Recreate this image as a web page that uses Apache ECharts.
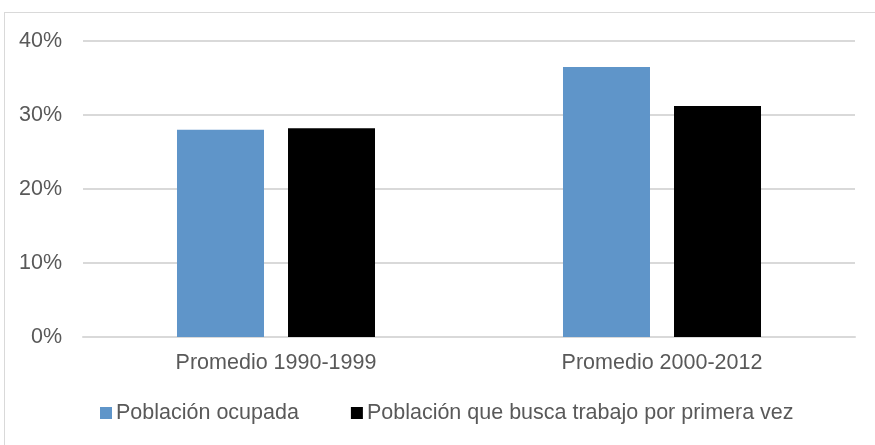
<!DOCTYPE html>
<html>
<head>
<meta charset="utf-8">
<script src="https://cdn.jsdelivr.net/npm/echarts@6/dist/echarts.min.js"></script>
<style>
    html, body {
        margin: 0;
        padding: 0;
        background: #fff;
    }

    .frame {
        position: absolute;
        left: 4px;
        top: 12px;
        width: 875px;
        height: 445px;
        border-top: 1px solid #d9d9d9;
        border-left: 1px solid #d9d9d9;
    }

    #chart {
        position: absolute;
        left: 0;
        top: 0;
        width: 875px;
        height: 445px;
    }
</style>
</head>
<body>
<div class="frame"></div>
<div id="chart"></div>
<script>
const categories = ["Promedio 1990-1999", "Promedio 2000-2012"];
const ocupada = [28.0, 36.5];
const buscaPrimeraVez = [28.2, 31.2];
const seriesNames = ["Población ocupada", "Población que busca trabajo por primera vez"];

const textColor = "#595959";
const gridColor = "#d9d9d9";
const font = "'Liberation Sans', Arial, sans-serif";
const fontSize = 21.5;

const chart = echarts.init(document.getElementById("chart"));

chart.setOption({
    animation: false,
    textStyle: { fontFamily: font },
    grid: {
        left: 83,
        right: 20,
        top: 41,
        bottom: 108,
        containLabel: false,
    },
    legend: {
        left: 95,
        top: 397,
        itemWidth: 12,
        itemHeight: 12,
        itemGap: 52,
        icon: "rect",
        textStyle: {
            color: textColor,
            fontSize: fontSize,
            fontFamily: font,
            padding: [0, 0, 0, -1],
        },
        data: seriesNames,
    },
    xAxis: {
        type: "category",
        data: categories,
        axisTick: { show: false },
        axisLine: { lineStyle: { color: gridColor, width: 2 } },
        axisLabel: {
            color: textColor,
            fontSize: fontSize,
            margin: 15,
            fontFamily: font,
        },
    },
    yAxis: {
        type: "value",
        min: 0,
        max: 40,
        interval: 10,
        axisLine: { show: false },
        axisTick: { show: false },
        axisLabel: {
            formatter: "{value}%",
            color: textColor,
            fontSize: fontSize,
            margin: 21,
            fontFamily: font,
        },
        splitLine: { lineStyle: { color: gridColor, width: 2 } },
    },
    series: [
        {
            name: seriesNames[0],
            type: "bar",
            data: ocupada,
            barWidth: 87,
            barGap: "27.6%",
            itemStyle: { color: "#5f95c9" },
        },
        {
            name: seriesNames[1],
            type: "bar",
            data: buscaPrimeraVez,
            barWidth: 87,
            itemStyle: { color: "#000000" },
        },
    ],
});
</script>
</body>
</html>
